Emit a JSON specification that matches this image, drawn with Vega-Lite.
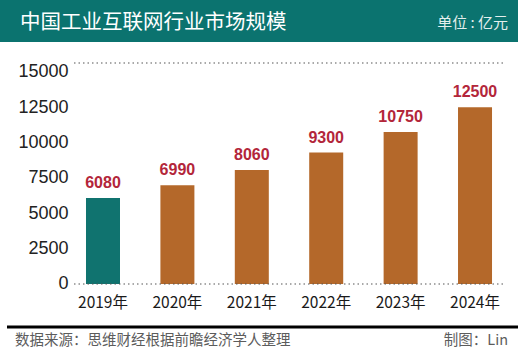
{
  "$schema": "https://vega.github.io/schema/vega-lite/v6.json",
  "width": 518,
  "height": 353,
  "autosize": {"type": "none"},
  "padding": 0,
  "background": "white",
  "config": {"view": {"stroke": null}, "font": "Noto Sans CJK SC"},
  "data": {
    "values": [
      {"year": "2019年", "value": 6080},
      {"year": "2020年", "value": 6990},
      {"year": "2021年", "value": 8060},
      {"year": "2022年", "value": 9300},
      {"year": "2023年", "value": 10750},
      {"year": "2024年", "value": 12500}
    ]
  },
  "layer": [
    {
      "mark": {"type": "bar", "tooltip": false},
      "encoding": {
        "x": {
          "field": "year",
          "type": "nominal",
          "scale": {"type": "band", "domain": ["2019年", "2020年", "2021年", "2022年", "2023年", "2024年"], "paddingInner": 0.543, "paddingOuter": 0.7525, "align": 0.768},
          "axis": {"orient": "bottom", "offset": -58, "labelPadding": 0, "domain": false, "ticks": false, "tickSize": 0, "labelFontSize": 15.5, "labelColor": "#1a1a1a", "labelAngle": 0, "title": null, "labelBaseline": "top"}
        },
        "y": {
          "field": "value",
          "type": "quantitative",
          "scale": {"domain": [-4882, 20094], "nice": false, "zero": false},
          "axis": {"values": [0, 2500, 5000, 7500, 10000, 12500, 15000], "format": "d", "grid": false, "domain": false, "ticks": false, "tickSize": 0, "offset": -70, "labelPadding": 2, "labelFontSize": 18, "labelColor": "#222222", "labelFont": "Liberation Sans", "title": null}
        },
        "color": {"condition": {"test": "datum.year === '2019年'", "value": "#10736f"}, "value": "#b4682a"}
      }
    },
    {
      "mark": {"type": "text", "fontWeight": "bold", "fontSize": 16, "font": "Liberation Sans", "color": "#b3263a", "dy": -10, "baseline": "alphabetic"},
      "encoding": {
        "x": {"field": "year", "type": "nominal"},
        "y": {"field": "value", "type": "quantitative"},
        "text": {"field": "value", "type": "quantitative", "format": "d"}
      }
    },
    {
      "data": {"values": [{}]},
      "mark": {"type": "rect", "color": "#0b736f"},
      "encoding": {
        "y": {"datum": 17123, "type": "quantitative"},
        "y2": {"datum": 20094}
      }
    },
    {
      "data": {"values": [{}]},
      "mark": {"type": "rule", "color": "#555555", "strokeWidth": 1.2, "strokeDash": [1.5, 3], "xOffset": -12, "x2Offset": 11},
      "encoding": {
        "x": {"datum": "2019年", "bandPosition": 0},
        "x2": {"datum": "2024年", "bandPosition": 1},
        "y": {"datum": 0, "type": "quantitative"}
      }
    },
    {
      "data": {"values": [{}]},
      "mark": {"type": "rule", "color": "#555555", "strokeWidth": 1.2, "strokeDash": [1.5, 3], "xOffset": -12, "x2Offset": 11},
      "encoding": {
        "x": {"datum": "2019年", "bandPosition": 0},
        "x2": {"datum": "2024年", "bandPosition": 1},
        "y": {"datum": 15637, "type": "quantitative"}
      }
    },
    {
      "data": {"values": [{}]},
      "mark": {"type": "rule", "color": "#000000", "strokeWidth": 3, "xOffset": -79, "x2Offset": 26},
      "encoding": {
        "x": {"datum": "2019年", "bandPosition": 0},
        "x2": {"datum": "2024年", "bandPosition": 1},
        "y": {"datum": -3042, "type": "quantitative"}
      }
    },
    {
      "data": {"values": [{"t": "中国工业互联网行业市场规模"}]},
      "mark": {"type": "text", "color": "white", "fontSize": 20.5, "align": "left", "baseline": "middle", "dx": -66},
      "encoding": {
        "x": {"datum": "2019年", "bandPosition": 0},
        "y": {"datum": 18500, "type": "quantitative"},
        "text": {"field": "t"}
      }
    },
    {
      "data": {"values": [{"t": "单位 : 亿元"}]},
      "mark": {"type": "text", "color": "#e3efed", "fontSize": 15, "align": "right", "baseline": "middle", "dx": 16},
      "encoding": {
        "x": {"datum": "2024年", "bandPosition": 1},
        "y": {"datum": 18450, "type": "quantitative"},
        "text": {"field": "t"}
      }
    },
    {
      "data": {"values": [{"t": "数据来源：思维财经根据前瞻经济学人整理"}]},
      "mark": {"type": "text", "color": "#5c5c5c", "fontSize": 14.5, "align": "left", "baseline": "middle", "dx": -71},
      "encoding": {
        "x": {"datum": "2019年", "bandPosition": 0},
        "y": {"datum": -4033, "type": "quantitative"},
        "text": {"field": "t"}
      }
    },
    {
      "data": {"values": [{"t": "制图：Lin"}]},
      "mark": {"type": "text", "color": "#5c5c5c", "fontSize": 14.5, "align": "right", "baseline": "middle", "dx": 16},
      "encoding": {
        "x": {"datum": "2024年", "bandPosition": 1},
        "y": {"datum": -4033, "type": "quantitative"},
        "text": {"field": "t"}
      }
    }
  ]
}
